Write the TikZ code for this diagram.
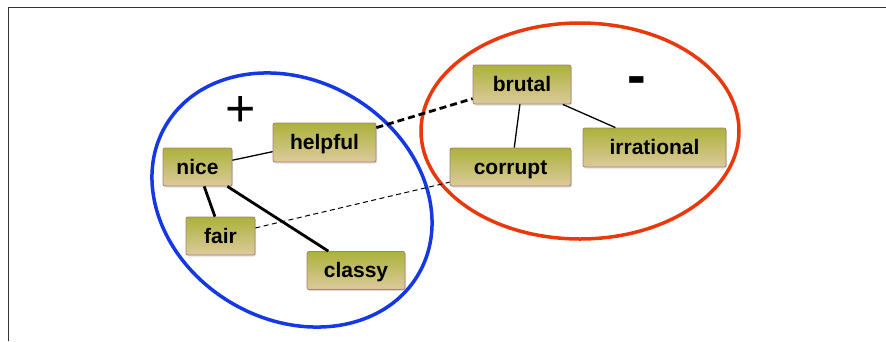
\documentclass[tikz,border=0pt]{standalone}
\usepackage{fontspec}
\setmainfont{Liberation Sans}
\usetikzlibrary{shadows}
\definecolor{boxtop}{HTML}{ABB23A}
\definecolor{boxbot}{HTML}{DCCA9C}
\definecolor{boxedge}{HTML}{A88078}
\definecolor{bluering}{HTML}{1438E4}
\definecolor{redring}{HTML}{E9380C}
\definecolor{framecol}{HTML}{333333}
\tikzset{
  word/.style={rectangle, rounded corners=2pt, draw=boxedge, line width=0.8pt,
    top color=boxtop, bottom color=boxbot, inner sep=0pt,
    text height=14pt, text depth=0pt,
    font=\bfseries\fontsize{21}{24}\selectfont,
    drop shadow={shadow xshift=1pt, shadow yshift=-1.5pt, opacity=0.25}},
  thinlink/.style={line width=1.3pt},
  thicklink/.style={line width=2.8pt},
  ring/.style={line width=3.5pt},
  sign/.style={inner sep=0pt, anchor=base}
}
\begin{document}
\begin{tikzpicture}[x=1pt,y=-1pt]
\useasboundingbox (0,0) rectangle (886,341);
% frame
\draw[framecol, line width=1pt] (8,341) -- (8,7) -- (886,7);
% rings
\draw[ring, bluering, shift={(292,200)}, rotate=-30.7] (0,0) ellipse [x radius=146.6pt, y radius=119.4pt];
\draw[ring, redring] (580,131) ellipse [x radius=159pt, y radius=108pt];
% signs
\node[sign, font=\fontsize{52}{56}\selectfont] (plus) at (241,126.5) {+};
\node[sign, font=\bfseries\fontsize{56}{60}\selectfont] (minus) at (637,94) {-};
% words
\node[word, minimum width=69pt, minimum height=38pt] (nice) at (197.5,167) {nice};
\node[word, minimum width=103pt, minimum height=39pt] (helpful) at (324.5,142.5) {helpful};
\node[word, minimum width=69pt, minimum height=38pt] (fair) at (220.5,236) {fair};
\node[word, minimum width=98pt, minimum height=38pt] (classy) at (356,270.5) {classy};
\node[word, minimum width=98pt, minimum height=39pt] (brutal) at (522,84.5) {brutal};
\node[word, minimum width=121pt, minimum height=38pt] (corrupt) at (510.5,167) {corrupt};
\node[word, minimum width=143pt, minimum height=39pt] (irrational) at (654.5,147.5) {irrational};
% links
\draw[thinlink] (nice.11.5) -- (helpful.190.5);
\draw[thicklink] (nice.-71) -- (fair.106);
\draw[thicklink] (nice.-33.7) -- (classy.145);
\draw[thicklink, dash pattern=on 7pt off 4pt] (helpful.16.8) -- (brutal.196.5);
\draw[line width=1pt, dash pattern=on 5pt off 3.5pt] (fair.13) -- (corrupt.194);
\draw[thinlink] (brutal.-96) -- (corrupt.79.6);
\draw[thinlink] (brutal.-26) -- (irrational.153.7);
\end{tikzpicture}
\end{document}
